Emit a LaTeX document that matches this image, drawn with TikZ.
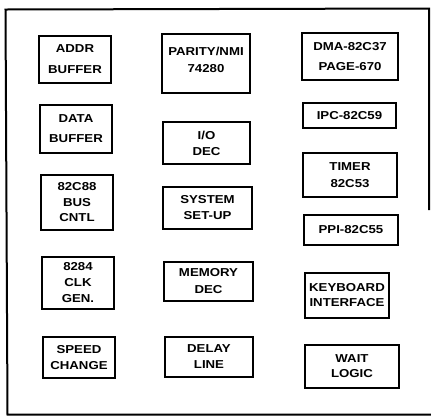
\documentclass[tikz,border=0pt]{standalone}
\usepackage{fontspec}
\newfontfamily\boxfont{Liberation Sans}[FakeStretch=1.15]
\begin{document}
\begin{tikzpicture}[x=1bp,y=-1bp,
  box/.style={draw, line width=1.6bp, inner sep=0pt, align=center,
    font=\boxfont\bfseries\fontsize{11.5bp}{#1bp}\selectfont},
  box/.default=16,
  lbl/.style={inner sep=0pt, align=center,
    font=\boxfont\bfseries\fontsize{11.5bp}{#1bp}\selectfont},
  lbl/.default=16,
  frame/.style={line width=2bp}]
\useasboundingbox (0,0) rectangle (431,416);
% outer frame
\coordinate (fr1) at (429,210);
\coordinate (fr2) at (429,8.5);
\coordinate (fr3) at (5.5,9.5);
\coordinate (fr4) at (7.5,414.5);
\coordinate (fr5) at (431,414.5);
\draw[frame] (fr1) -- (fr2) -- (fr3) -- (fr4) -- (fr5);
% column 1
\node[box=21, minimum width=72, minimum height=47] (addr) at (75,59.5) {ADDR\\BUFFER};
\node[box=20, minimum width=72, minimum height=48] (data) at (76,129) {DATA\\BUFFER};
\node[box=15.5, minimum width=72, minimum height=55] (busctl) at (77,202.5) {82C88\\BUS\\CNTL};
\node[box=16, minimum width=72, minimum height=52] (clk) at (78,283) {8284\\CLK\\GEN.};
\node[box=15.5, minimum width=72, minimum height=41] (speed) at (79,357.5) {SPEED\\CHANGE};
% column 2
\node[box, minimum width=88, minimum height=59] (parity) at (206,63.5) {};
\node[lbl=17] (paritytxt) at (206,59.5) {PARITY/NMI\\74280};
\node[box=16, minimum width=87, minimum height=42] (io) at (206.5,143) {I/O\\DEC};
\node[box=16, minimum width=89, minimum height=42] (setup) at (207.5,208) {SYSTEM\\SET-UP};
\node[box=17, minimum width=89, minimum height=39] (mem) at (208.5,281.5) {MEMORY\\DEC};
\node[box=16, minimum width=88, minimum height=40] (delay) at (209,357) {DELAY\\LINE};
% column 3
\node[box=20, minimum width=96, minimum height=47] (dma) at (350,56.5) {DMA-82C37\\PAGE-670};
\node[box, minimum width=93, minimum height=25] (ipc) at (349.5,115.5) {IPC-82C59};
\node[box=17, minimum width=94, minimum height=44] (timer) at (350,175) {TIMER\\82C53};
\node[box, minimum width=94, minimum height=30] (ppi) at (351,230) {PPI-82C55};
\node[box=15, minimum width=84, minimum height=45] (kbd) at (347,295.5) {KEYBOARD\\INTERFACE};
\node[box=15, minimum width=94, minimum height=43] (wait) at (352,366.5) {WAIT\\LOGIC};
\end{tikzpicture}
\end{document}
